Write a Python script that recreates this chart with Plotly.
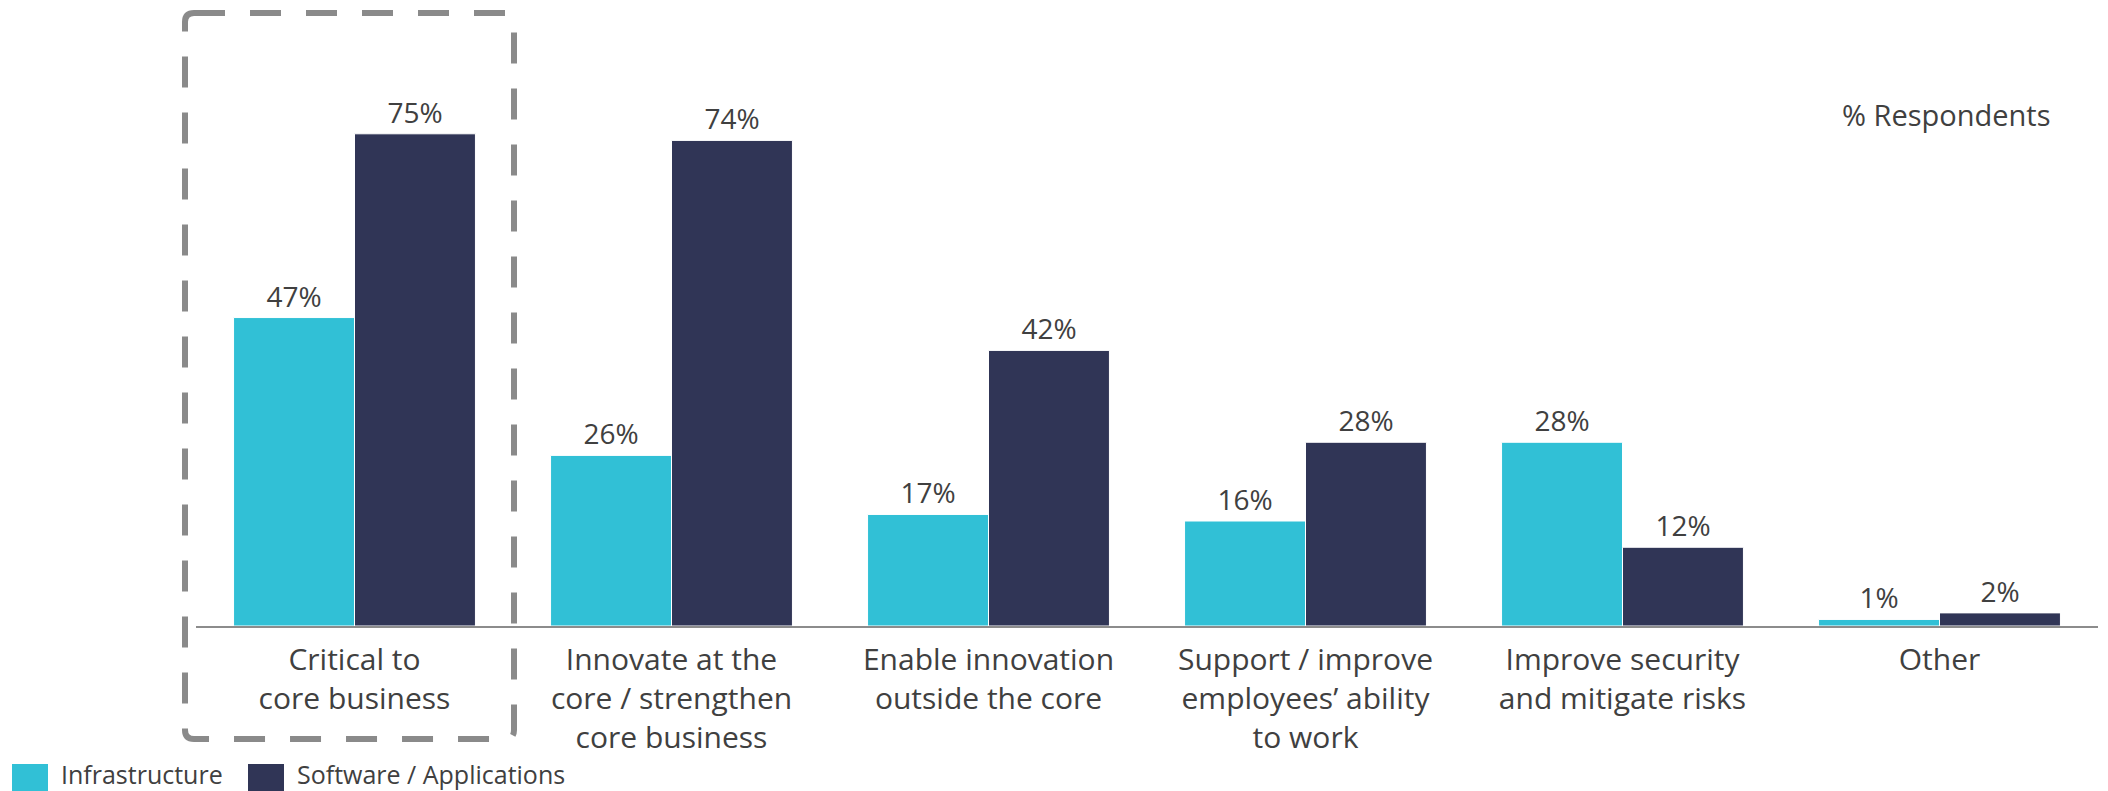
import plotly.graph_objects as go

# Survey data: share of respondents per objective
categories = [
    "Critical to<br>core business",
    "Innovate at the<br>core / strengthen<br>core business",
    "Enable innovation<br>outside the core",
    "Support / improve<br>employees’ ability<br>to work",
    "Improve security<br>and mitigate risks",
    "Other",
]
series_names = ["Infrastructure", "Software / Applications"]
infrastructure = [47, 26, 17, 16, 28, 1]
software = [75, 74, 42, 28, 12, 2]
series_values = [infrastructure, software]
series_colors = ["#31C0D6", "#303556"]

FONT = "Open Sans"
TEXT_COLOR = "#404040"

W, H = 2108, 791
M_L, M_R, M_T, M_B = 196, 10, 101, 165
PLOT_W = W - M_L - M_R
PLOT_H = H - M_T - M_B


def px_x(px):
    return (px - M_L) / PLOT_W


def px_y(py):
    return (H - M_B - py) / PLOT_H


fig = go.Figure()
for name, vals, color in zip(series_names, series_values, series_colors):
    fig.add_trace(go.Bar(
        x=categories,
        y=vals,
        name=name,
        marker=dict(color=color, line=dict(color="white", width=1)),
        texttemplate="%{y}%",
        textposition="outside",
        textfont=dict(family=FONT, size=28, color=TEXT_COLOR),
        cliponaxis=False,
        showlegend=False,
    ))

# Rounded dashed frame highlighting the first category
x0, x1 = px_x(185), px_x(514)
y0, y1 = px_y(13), px_y(739)
rx, ry = 9 / PLOT_W, 9 / PLOT_H
frame_path = (
    f"M{x0 + rx},{y0} H{x1 - rx} Q{x1},{y0} {x1},{y0 - ry} "
    f"V{y1 + ry} Q{x1},{y1} {x1 - rx},{y1} "
    f"H{x0 + rx} Q{x0},{y1} {x0},{y1 + ry} "
    f"V{y0 - ry} Q{x0},{y0} {x0 + rx},{y0} Z"
)
shapes = [dict(
    type="path", xref="paper", yref="paper", path=frame_path,
    line=dict(color="#8a8a8a", width=6, dash="31px,25px"),
    layer="above",
)]

# Legend drawn as swatches with labels along the bottom edge
legend_items = [(12, 59), (248, 295)]
annotations = []
for (sx, tx), name, color in zip(legend_items, series_names, series_colors):
    shapes.append(dict(
        type="rect", xref="paper", yref="paper",
        x0=px_x(sx), x1=px_x(sx + 36), y0=px_y(764), y1=px_y(800),
        fillcolor=color, line=dict(width=0),
    ))
    annotations.append(dict(
        xref="paper", yref="paper", x=px_x(tx), y=px_y(774),
        xanchor="left", yanchor="middle", showarrow=False,
        text=name, font=dict(family=FONT, size=25, color=TEXT_COLOR),
    ))

annotations.append(dict(
    xref="paper", yref="paper", x=px_x(1840), y=px_y(115),
    xanchor="left", yanchor="middle", showarrow=False,
    text="% Respondents", font=dict(family=FONT, size=29, color=TEXT_COLOR),
))

fig.update_layout(
    width=W, height=H,
    margin=dict(l=M_L, r=M_R, t=M_T, b=M_B, autoexpand=False),
    barmode="group",
    bargap=0.237,
    bargroupgap=0,
    plot_bgcolor="white",
    paper_bgcolor="white",
    font=dict(family=FONT, color=TEXT_COLOR),
    shapes=shapes,
    annotations=annotations,
    showlegend=False,
)
fig.update_xaxes(
    showline=True, linecolor="#8c8c8c", linewidth=2,
    showgrid=False, ticks="", zeroline=False,
    tickfont=dict(family=FONT, size=30, color=TEXT_COLOR),
    ticklabelstandoff=6,
)
fig.update_yaxes(
    range=[0, 80], visible=False, showgrid=False, zeroline=False,
)

fig.write_html("out.html")
